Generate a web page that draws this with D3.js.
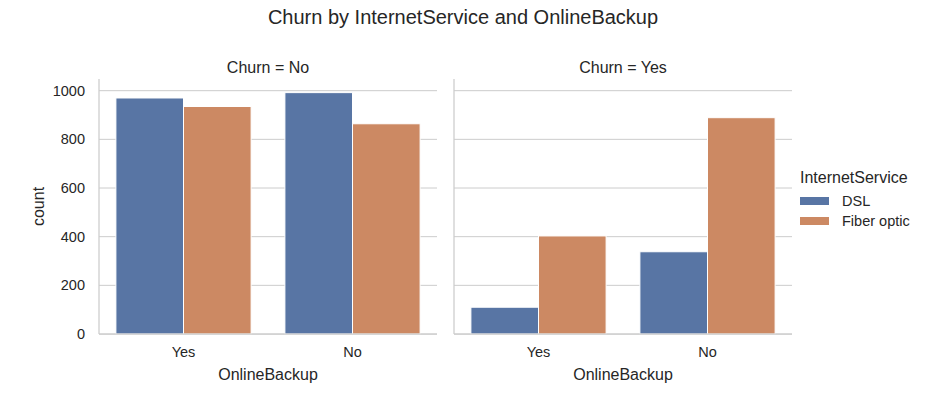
<!DOCTYPE html>
<html>
<head>
<meta charset="utf-8">
<script src="https://cdn.jsdelivr.net/npm/d3@7"></script>
<style>
body { margin: 0; background: #fff; }
text { font-family: "Liberation Sans", Arial, sans-serif; fill: #262626; }
</style>
</head>
<body>
<svg id="chart" width="926" height="400"></svg>
<script>
const panels = ["No", "Yes"];
const categories = ["Yes", "No"];
const services = ["DSL", "Fiber optic"];
const churnNoDSL = [970, 992];
const churnNoFiber = [935, 864];
const churnYesDSL = [110, 338];
const churnYesFiber = [403, 889];
const yTicks = [0, 200, 400, 600, 800, 1000];
const colors = ["#5875a4", "#cc8963"];

const panelValues = {
  "No": [churnNoDSL, churnNoFiber],
  "Yes": [churnYesDSL, churnYesFiber]
};

const svg = d3.select("#chart");
const plotTop = 79, plotBottom = 334;
const panelX = [[99, 437], [454, 792]];

const y = d3.scaleLinear().domain([0, 1048]).range([plotBottom, plotTop]);

svg.append("text").attr("x", 463).attr("y", 24).attr("text-anchor", "middle")
  .style("font-size", "20px").text("Churn by InternetService and OnlineBackup");

panels.forEach((p, pi) => {
  const [x0, x1] = panelX[pi];
  const g = svg.append("g");
  const slot = (x1 - x0) / categories.length;
  const xc = d3.scalePoint().domain(categories).range([x0 + slot / 2, x1 - slot / 2]);
  const bw = slot * 0.8;
  const xsub = d3.scaleBand().domain(services).range([-bw / 2, bw / 2]);

  g.selectAll("line.grid").data(yTicks).enter().append("line")
    .attr("x1", x0).attr("x2", x1).attr("y1", d => y(d)).attr("y2", d => y(d))
    .attr("stroke", "#cccccc").attr("stroke-width", 1);

  services.forEach((s, si) => {
    g.selectAll("rect.s" + si).data(categories).enter().append("rect")
      .attr("x", c => xc(c) + xsub(s))
      .attr("width", xsub.bandwidth())
      .attr("y", (c, ci) => y(panelValues[p][si][ci]))
      .attr("height", (c, ci) => y(0) - y(panelValues[p][si][ci]))
      .attr("fill", colors[si])
      .attr("stroke", "#ffffff").attr("stroke-width", 1);
  });

  g.append("line").attr("x1", x0).attr("x2", x0).attr("y1", plotTop).attr("y2", plotBottom)
    .attr("stroke", "#cccccc").attr("stroke-width", 1.25);
  g.append("line").attr("x1", x0).attr("x2", x1).attr("y1", plotBottom).attr("y2", plotBottom)
    .attr("stroke", "#cccccc").attr("stroke-width", 1.25);

  g.selectAll("text.xt").data(categories).enter().append("text")
    .attr("x", c => xc(c)).attr("y", 357).attr("text-anchor", "middle")
    .style("font-size", "14.5px").text(c => c);

  g.append("text").attr("x", (x0 + x1) / 2).attr("y", 380).attr("text-anchor", "middle")
    .style("font-size", "16px").text("OnlineBackup");

  g.append("text").attr("x", (x0 + x1) / 2).attr("y", 73).attr("text-anchor", "middle")
    .style("font-size", "16px").text("Churn = " + p);

  if (pi === 0) {
    g.selectAll("text.yt").data(yTicks).enter().append("text")
      .attr("x", 85).attr("y", d => y(d) + 5).attr("text-anchor", "end")
      .style("font-size", "14.5px").text(d => d);
    g.append("text").attr("transform", `translate(44,${(plotTop + plotBottom) / 2}) rotate(-90)`)
      .attr("text-anchor", "middle").style("font-size", "16px").text("count");
  }
});

const lg = svg.append("g");
lg.append("text").attr("x", 800).attr("y", 183).style("font-size", "16px").text("InternetService");
services.forEach((s, i) => {
  lg.append("rect").attr("x", 800).attr("y", 197 + i * 20).attr("width", 29).attr("height", 8)
    .attr("fill", colors[i]);
  lg.append("text").attr("x", 842).attr("y", 206 + i * 20).style("font-size", "14.5px").text(s);
});
</script>
</body>
</html>
